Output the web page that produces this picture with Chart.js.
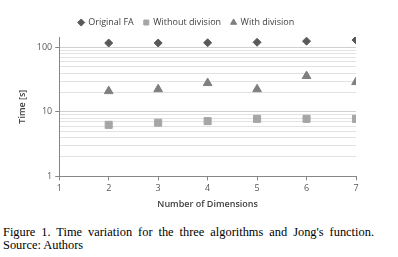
<!DOCTYPE html>
<html>
<head>
<meta charset="utf-8">
<script src="https://cdn.jsdelivr.net/npm/chart.js@4/dist/chart.umd.min.js"></script>
<style>
  body { margin: 0; background: #fff; width: 398px; height: 257px; overflow: hidden; }
  #wrap { position: absolute; left: 0; top: 0; width: 398px; height: 210px; }
  #caption {
    position: absolute; left: 3px; top: 226px; width: 371px;
    font-family: "Liberation Serif", serif; font-size: 12.4px; line-height: 13px;
    text-align: justify; text-align-last: left; color: #000;
  }
  #caption .l1 { text-align-last: justify; }
</style>
</head>
<body>
<div id="wrap"><canvas id="chart1"></canvas></div>
<div id="caption"><div class="l1">Figure 1. Time variation for the three algorithms and Jong's function.</div><div>Source: Authors</div></div>
<script>
const dims = [2, 3, 4, 5, 6, 7];
const originalFA = [117, 117, 118, 120, 125, 130];
const withoutDivision = [6.3, 6.8, 7.2, 7.8, 7.8, 7.8];
const withDivision = [21, 22.5, 28, 22.5, 36, 29];
const yMajor = [1, 10, 100];

function pts(vals) {
    return dims.map((d, i) => ({ x: d, y: vals[i] }));
}

const ctx1 = document.getElementById('chart1');

new Chart(ctx1, {
    type: 'scatter',
    data: {
        datasets: [{
            label: 'Original FA',
            data: pts(originalFA),
            pointStyle: 'rectRot',
            pointRadius: 4,
            backgroundColor: '#595959',
            borderColor: '#595959'
        }, {
            label: 'Without division',
            data: pts(withoutDivision),
            pointStyle: 'rect',
            pointRadius: 5,
            backgroundColor: '#a6a6a6',
            borderColor: '#a6a6a6'
        }, {
            label: 'With division',
            data: pts(withDivision),
            pointStyle: 'triangle',
            pointRadius: 5,
            backgroundColor: '#7f7f7f',
            borderColor: '#7f7f7f'
        }]
    },
    options: {
        responsive: true,
        maintainAspectRatio: false,
        animation: false,
        layout: { padding: { left: 17, right: 42, top: 8, bottom: 0 } },
        plugins: {
            tooltip: { enabled: false },
            legend: {
                position: 'top',
                labels: {
                    usePointStyle: true,
                    boxWidth: 5,
                    boxHeight: 5,
                    padding: 10,
                    color: '#404040',
                    font: { family: 'Open Sans', size: 9 }
                }
            }
        },
        scales: {
            x: {
                type: 'linear',
                min: 1,
                max: 7,
                ticks: { stepSize: 1, color: '#595959', font: { family: 'Open Sans', size: 9 } },
                grid: { drawOnChartArea: false, tickLength: 4, color: '#868686' },
                border: { color: '#868686' },
                title: {
                    display: true,
                    text: 'Number of Dimensions',
                    color: '#404040',
                    font: { family: 'Open Sans', size: 9, weight: '600' },
                    padding: { top: 2, bottom: 0 }
                }
            },
            y: {
                type: 'logarithmic',
                min: 1,
                max: 145,
                afterBuildTicks: (axis) => {
                    const t = [];
                    for (const m of [1, 10]) {
                        for (let k = 1; k < 10; k++) t.push({ value: m * k });
                    }
                    t.push({ value: 100 });
                    axis.ticks = t;
                },
                ticks: {
                    autoSkip: false,
                    color: '#595959',
                    font: { family: 'Open Sans', size: 9 },
                    callback: (v) => yMajor.includes(v) ? String(v) : ''
                },
                grid: {
                    tickLength: 4,
                    color: (c) => c.tick && yMajor.includes(c.tick.value) ? '#d0d0d0' : '#e2e2e2',
                    tickColor: (c) => c.tick && yMajor.includes(c.tick.value) ? '#868686' : 'rgba(0,0,0,0)'
                },
                border: { color: '#868686' },
                title: {
                    display: true,
                    text: 'Time [s]',
                    color: '#404040',
                    font: { family: 'Open Sans', size: 9, weight: '600' },
                    padding: { top: 0, bottom: 6 }
                }
            }
        }
    }
});
</script>
</body>
</html>
